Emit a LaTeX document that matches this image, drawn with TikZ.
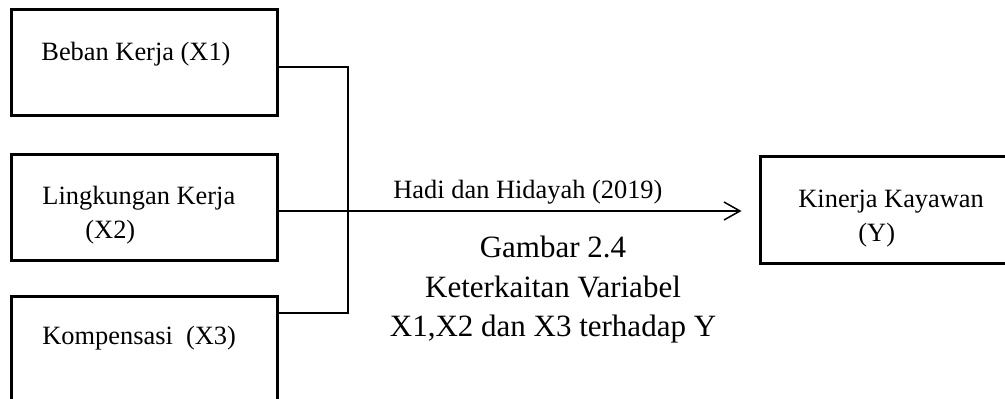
\documentclass[tikz,border=0pt]{standalone}
\usepackage{fontspec}
\setmainfont{Liberation Serif}
\usetikzlibrary{arrows.meta}
\begin{document}
\begin{tikzpicture}[x=0.5pt,y=-0.5pt,
  varbox/.style={draw,line width=1.5pt,rectangle,inner sep=0pt,minimum width=133pt,minimum height=53pt},
  txt/.style={inner sep=0pt,anchor=base west,font=\fontsize{13.2}{16}\selectfont},
  captext/.style={inner sep=0pt,anchor=base,font=\fontsize{15.5}{19.75}\selectfont},
  conn/.style={line width=0.75pt}]
\useasboundingbox (0,0) rectangle (1005,399);
\clip (0,0) rectangle (1005,399);

% variable boxes
\node[varbox] (b1) at (144,63) {};
\node[varbox] (b2) at (144,208) {};
\node[varbox] (b3) at (144,350) {};
\node[varbox,minimum width=125pt,minimum height=53.5pt] (y) at (885,210.5) {};

% box texts
\node[txt] (t1) at (41,61) {Beban Kerja (X1)};
\node[txt] (t2a) at (42,205) {Lingkungan Kerja};
\node[txt] (t2b) at (85,239) {(X2)};
\node[txt] (t3) at (42,345) {Kompensasi\ \ (X3)};
\node[txt] (ty1) at (798,208) {Kinerja Kayawan};
\node[txt] (ty2) at (858,242) {(Y)};

% connectors: X1 and X3 join on a vertical bus, X2 runs straight to Y
\coordinate (j3) at (348,313);
\draw[conn] ([yshift=-2pt]b1.east) -| (j3) -- (j3 -| b3.east);
\draw[conn,-{Straight Barb[length=8pt,width=9pt,line width=0.75pt]},shorten >=8.5pt]
  ([yshift=-1.5pt]b2.east) -- ([yshift=-1.5pt]b2.east -| y.west);
\node[txt] (src) at (393,199) {Hadi dan Hidayah (2019)};

% caption
\node[captext] (c1) at (553,258) {Gambar 2.4};
\node[captext] (c2) at (553,298) {Keterkaitan Variabel};
\node[captext] (c3) at (553,337) {X1,X2 dan X3 terhadap Y};
\end{tikzpicture}
\end{document}
